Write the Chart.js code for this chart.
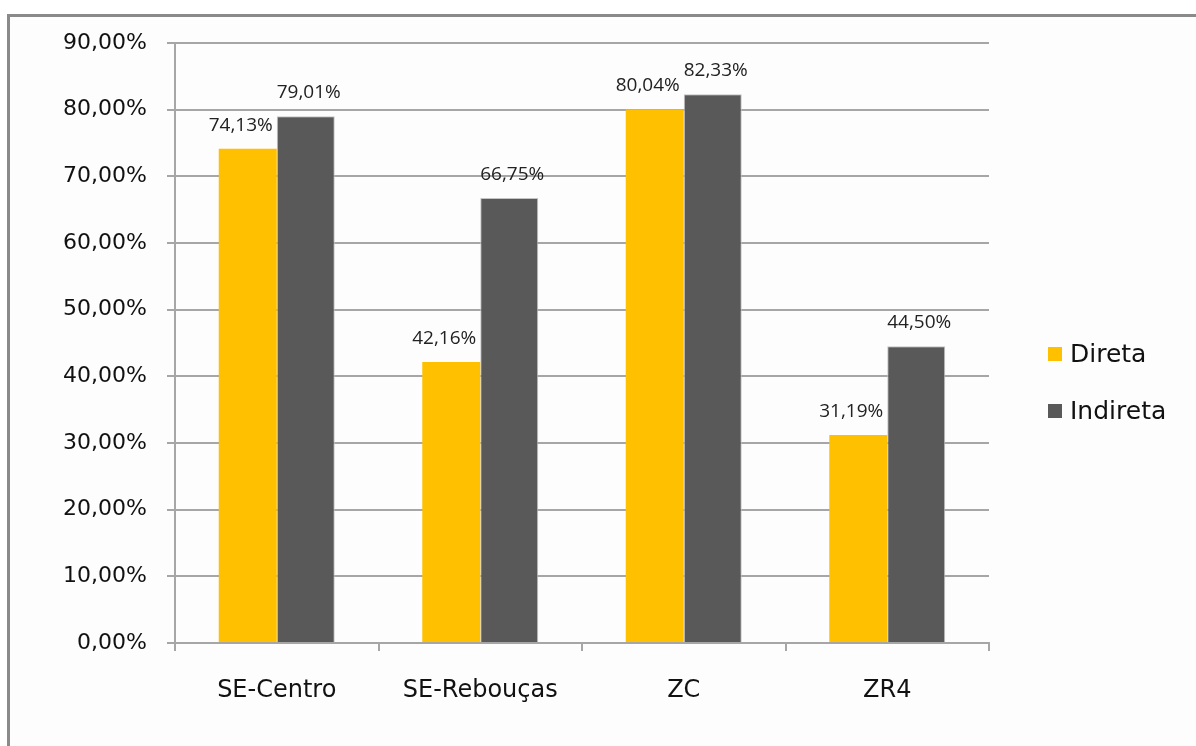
<!DOCTYPE html>
<html>
<head>
<meta charset="utf-8">
<script src="https://cdn.jsdelivr.net/npm/chart.js@4/dist/chart.umd.min.js"></script>
<style>
  body { margin: 0; background: #fff; }
  #wrap { position: relative; width: 1196px; height: 746px; }
  #frame { position: absolute; left: 7px; top: 14px; right: -10px; bottom: -10px;
           border-top: 3px solid #8a8a8a; border-left: 3px solid #8a8a8a; background: #fdfdfd; }
  #grafico { position: absolute; left: 0; top: 0; }
</style>
</head>
<body>
<div id="wrap">
  <div id="frame"></div>
  <canvas id="grafico" width="1196" height="746"></canvas>
</div>
<script>
const categorias = ['SE-Centro', 'SE-Rebouças', 'ZC', 'ZR4'];
const direta = [74.13, 42.16, 80.04, 31.19];
const indireta = [79.01, 66.75, 82.33, 44.50];
const nomesSeries = ['Direta', 'Indireta'];
const cores = ['#FFC000', '#595959'];

const corGrade = '#a6a6a6';

function pct(v) {
  return v.toFixed(2).replace('.', ',') + '%';
}

// rótulos de valor em cima das barras
const rotulos = {
  id: 'rotulos',
  afterDatasetsDraw(chart) {
    const ctx = chart.ctx;
    const desloc = [-7, 3];
    ctx.save();
    ctx.font = '19px "Open Sans"';
    ctx.fillStyle = '#222';
    ctx.textAlign = 'center';
    ctx.textBaseline = 'alphabetic';
    chart.data.datasets.forEach((ds, i) => {
      chart.getDatasetMeta(i).data.forEach((bar, j) => {
        ctx.fillText(pct(ds.data[j]), bar.x + desloc[i], bar.y - 18);
      });
    });
    ctx.restore();
  }
};

// legenda à direita
const legenda = {
  id: 'legenda',
  afterDraw(chart) {
    const ctx = chart.ctx;
    const x = chart.chartArea.right + 59;
    const y0 = 354;
    ctx.save();
    ctx.font = '25px "DejaVu Sans"';
    ctx.textBaseline = 'middle';
    chart.data.datasets.forEach((ds, i) => {
      const y = y0 + i * 57;
      ctx.fillStyle = ds.backgroundColor;
      ctx.fillRect(x, y - 7, 14, 14);
      ctx.fillStyle = '#111';
      ctx.fillText(ds.label, x + 22, y + 1);
    });
    ctx.restore();
  }
};

new Chart(document.getElementById('grafico'), {
  type: 'bar',
  data: {
    labels: categorias,
    datasets: [
      {
        label: nomesSeries[0],
        data: direta,
        backgroundColor: cores[0],
        borderWidth: 0,
        categoryPercentage: 0.57,
        barPercentage: 1.0
      },
      {
        label: nomesSeries[1],
        data: indireta,
        backgroundColor: cores[1],
        borderColor: '#c4c4c4',
        borderWidth: 1,
        categoryPercentage: 0.57,
        barPercentage: 1.0
      }
    ]
  },
  options: {
    responsive: false,
    animation: false,
    layout: {
      padding: { top: 43, right: 207, left: 0, bottom: 0 }
    },
    scales: {
      x: {
        offset: true,
        grid: {
          offset: true,
          drawOnChartArea: false,
          drawTicks: true,
          tickLength: 8,
          color: corGrade,
          lineWidth: 2
        },
        border: { display: true, color: corGrade, width: 2 },
        ticks: {
          padding: 25,
          color: '#111',
          font: { family: 'DejaVu Sans', size: 24 }
        },
        afterFit(scale) { scale.height = 103; }
      },
      y: {
        min: 0,
        max: 90,
        grid: {
          color: corGrade,
          lineWidth: 2,
          tickLength: 8
        },
        border: { display: true, color: corGrade, width: 2 },
        ticks: {
          stepSize: 10,
          padding: 20,
          color: '#111',
          font: { family: 'DejaVu Sans', size: 22 },
          callback: (v) => pct(v)
        },
        afterFit(scale) { scale.width = 175; }
      }
    },
    plugins: {
      legend: { display: false },
      tooltip: { enabled: false }
    }
  },
  plugins: [rotulos, legenda]
});
</script>
</body>
</html>
